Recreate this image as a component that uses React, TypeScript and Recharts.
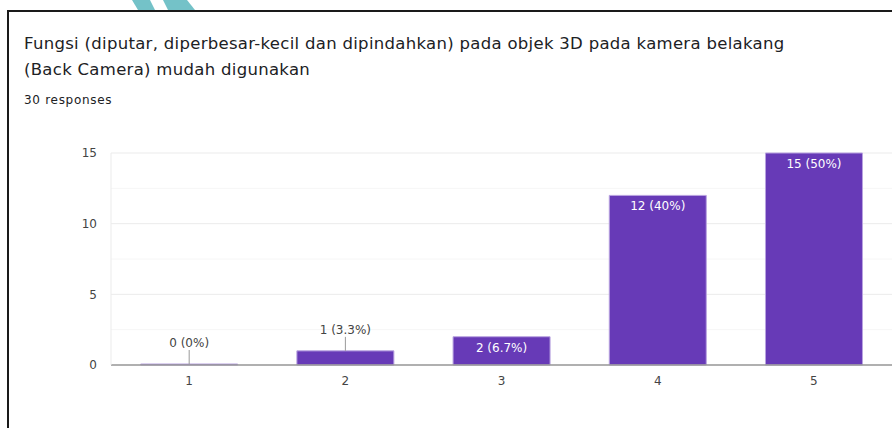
import { BarChart, Bar, XAxis, YAxis, CartesianGrid, LabelList } from 'recharts';

const categories = ['1', '2', '3', '4', '5'];
const counts = [0, 1, 2, 12, 15];
const totalResponses = 30;
const yTicks = [0, 5, 10, 15];
const minorTicks = [2.5, 7.5, 12.5];

const TITLE_LINE_1 =
  'Fungsi (diputar, diperbesar-kecil dan dipindahkan) pada objek 3D pada kamera belakang';
const TITLE_LINE_2 = '(Back Camera) mudah digunakan';

const FONT = '"DejaVu Sans", Verdana, sans-serif';

const data = categories.map((c, i) => ({ name: c, value: counts[i] }));

function pct(v: number): string {
  const p = (v / totalResponses) * 100;
  const s = p.toFixed(1);
  return s.endsWith('.0') ? s.slice(0, -2) : s;
}

function BarLabel(props: any) {
  const { x, y, width, height, value } = props;
  const cx = x + width / 2;
  const text = `${value} (${pct(value)}%)`;
  if (height >= 20) {
    return (
      <text
        x={cx}
        y={y + 11}
        textAnchor="middle"
        dominantBaseline="central"
        fill="#ffffff"
        fontSize={12}
        fontFamily={FONT}
      >
        {text}
      </text>
    );
  }
  return (
    <g>
      <line x1={cx} x2={cx} y1={y - 14} y2={y} stroke="#999" strokeWidth={1} />
      <text
        x={cx}
        y={y - 21}
        textAnchor="middle"
        dominantBaseline="central"
        fill="#444"
        fontSize={12}
        fontFamily={FONT}
      >
        {text}
      </text>
    </g>
  );
}

export default function App() {
  return (
    <div
      style={{
        position: 'absolute',
        left: 0,
        top: 0,
        width: 892,
        height: 428,
        overflow: 'hidden',
        background: '#fff',
        fontFamily: FONT,
      }}
    >
      {/* teal fragment above the frame */}
      <svg width={892} height={12} style={{ position: 'absolute', left: 0, top: 0 }}>
        <polygon points="132,0 150,0 155,10 138,10" fill="#74c2c8" />
        <polygon points="163,0 187,0 195,10 168,10" fill="#74c2c8" />
      </svg>

      {/* frame */}
      <div
        style={{
          position: 'absolute',
          left: 7,
          top: 10,
          width: 900,
          height: 430,
          borderTop: '2px solid #1a1a1a',
          borderLeft: '2px solid #1a1a1a',
        }}
      />

      <div
        style={{
          position: 'absolute',
          left: 24,
          top: 31,
          fontSize: 16.5,
          letterSpacing: 0.3,
          lineHeight: '26px',
          color: '#202124',
          whiteSpace: 'nowrap',
        }}
      >
        <div>{TITLE_LINE_1}</div>
        <div>{TITLE_LINE_2}</div>
      </div>
      <div
        style={{
          position: 'absolute',
          left: 24,
          top: 93,
          fontSize: 12,
          letterSpacing: 0.7,
          color: '#202124',
        }}
      >
        {totalResponses} responses
      </div>

      <div style={{ position: 'absolute', left: 0, top: 0 }}>
        <BarChart
          width={892}
          height={428}
          data={data}
          margin={{ top: 153, right: 0, bottom: 33, left: 71 }}
          barCategoryGap="19%"
        >
          <CartesianGrid
            vertical={false}
            horizontalValues={minorTicks}
            stroke="#f6f6f6"
            strokeWidth={1}
          />
          <CartesianGrid vertical={false} stroke="#ebebeb" strokeWidth={1} />
          <XAxis
            dataKey="name"
            height={30}
            axisLine={{ stroke: '#999', strokeWidth: 1.5 }}
            tickLine={false}
            tickSize={0}
            tickMargin={11}
            tick={{ fontSize: 12, fill: '#444', fontFamily: FONT }}
          />
          <YAxis
            width={40}
            domain={[0, 15]}
            ticks={yTicks}
            axisLine={{ stroke: '#ebebeb' }}
            tickLine={false}
            tickSize={0}
            tickMargin={14}
            tick={{ fontSize: 12, fill: '#444', fontFamily: FONT }}
          />
          <Bar
            dataKey="value"
            fill="#673ab7"
            stroke="#b9a3e0"
            strokeWidth={1}
            minPointSize={1}
            isAnimationActive={false}
          >
            <LabelList dataKey="value" content={BarLabel} />
          </Bar>
        </BarChart>
      </div>
    </div>
  );
}
